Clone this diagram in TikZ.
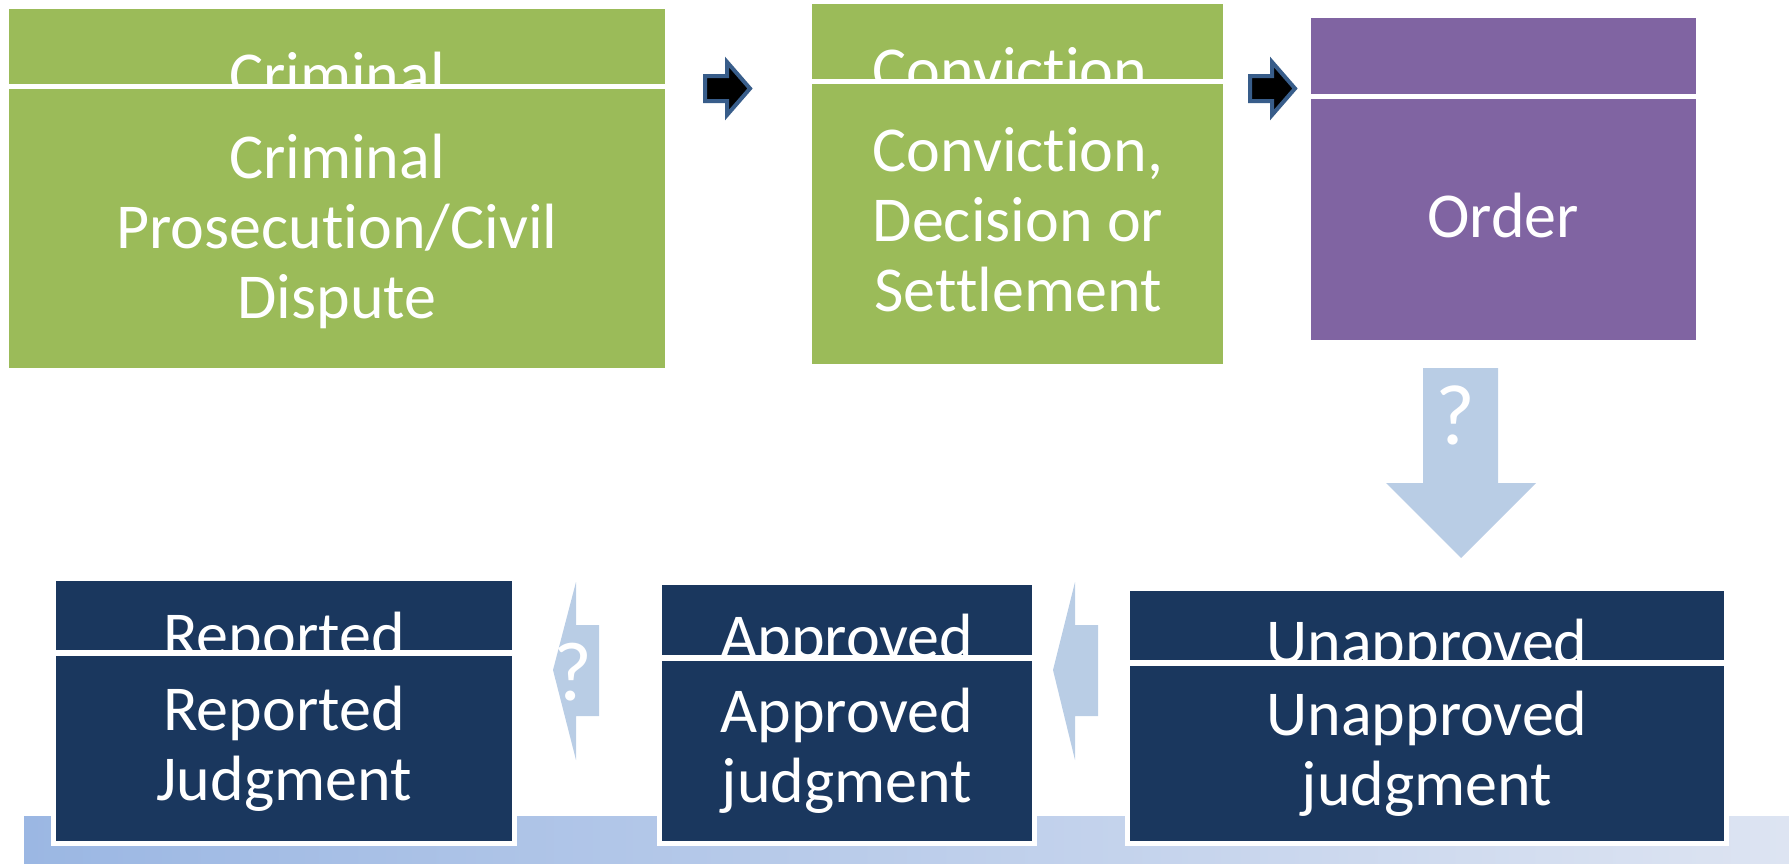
\documentclass[tikz,border=0pt]{standalone}
\usepackage{fontspec}
\setmainfont{Carlito}[Ligatures={NoCommon}]
\definecolor{grn}{HTML}{9BBB59}
\definecolor{purp}{HTML}{8064A2}
\definecolor{navy}{HTML}{1A375E}
\definecolor{lblue}{HTML}{B9CDE5}
\definecolor{abord}{HTML}{385D8A}
\definecolor{barL}{HTML}{9BB7E3}
\definecolor{barR}{HTML}{DDE4F2}
\begin{document}
\begin{tikzpicture}[x=1pt,y=-1pt,
  blk/.style={inner sep=0pt, outer sep=0pt, anchor=north west, draw=none},
  wtxt/.style={text=white, font=\fontsize{64}{70}\selectfont, align=center, inner sep=0pt},
  qtxt/.style={text=white, font=\fontsize{86}{90}\selectfont, inner sep=0pt},
  bluearrow/.style={fill=lblue, draw=none},
  smallarrow/.style={fill=black, draw=abord, line width=4pt, line join=miter},
  navymain/.style={blk, fill=navy, draw=white, line width=5pt},
]
\useasboundingbox (0,0) rectangle (1789,863);

% ---------- top row ----------
\node[blk, fill=grn, minimum width=656pt, minimum height=75pt] (h1) at (9,9) {};
\node[blk, fill=grn, minimum width=656pt, minimum height=279pt] (m1) at (9,89) {};
\begin{scope}
  \clip (h1.north west) rectangle (h1.south east);
  \node[wtxt, anchor=base] (h1t) at (337,96) {Criminal};
\end{scope}
\node[wtxt] (m1t) at (337,231) {Criminal\\Prosecution/Civil\\Dispute};

\node[blk, fill=grn, minimum width=411pt, minimum height=75pt] (h2) at (812,4) {};
\node[blk, fill=grn, minimum width=411pt, minimum height=280pt] (m2) at (812,84) {};
\begin{scope}
  \clip (h2.north west) rectangle (h2.south east);
  \node[wtxt, anchor=base] (h2t) at (1018,91) {Conviction,};
\end{scope}
\node[wtxt] (m2t) at (1018,220) {Conviction,\\Decision or\\Settlement};

\node[blk, fill=purp, minimum width=385pt, minimum height=76pt] (h3) at (1311,18) {};
\node[blk, fill=purp, minimum width=385pt, minimum height=241pt] (m3) at (1311,99) {};
\node[wtxt, anchor=base] (m3t) at (1503,237) {Order};

% small block arrows
\path[smallarrow] (705,76) -- (727,76) -- (727,62) -- (750,88.5) -- (727,115) -- (727,101) -- (705,101) -- cycle;
\path[smallarrow, xshift=545pt] (705,76) -- (727,76) -- (727,62) -- (750,88.5) -- (727,115) -- (727,101) -- (705,101) -- cycle;

% big down arrow
\path[bluearrow] (1423,368) -- (1498,368) -- (1498,483) -- (1536,483) -- (1461,558) -- (1386,483) -- (1423,483) -- cycle;
\node[qtxt] (q1) at (1455,415) {?};

% ---------- bottom row ----------
\shade[left color=barL, right color=barR] (24,816) rectangle (1789,863);

\node[blk, fill=navy, minimum width=456pt, minimum height=69pt] (h4) at (56,581) {};
\node[navymain, minimum width=461pt, minimum height=190pt] (m4) at (53.5,653.5) {};
\begin{scope}
  \clip (h4.north west) rectangle (h4.south east);
  \node[wtxt, anchor=base] (h4t) at (284,656) {Reported};
\end{scope}
\node[wtxt] (m4t) at (m4.center) {Reported\\Judgment};

\node[blk, fill=navy, minimum width=370pt, minimum height=70pt] (h5) at (662,585) {};
\node[navymain, minimum width=375pt, minimum height=185pt] (m5) at (659.5,658.5) {};
\begin{scope}
  \clip (h5.north west) rectangle (h5.south east);
  \node[wtxt, anchor=base] (h5t) at (847,658) {Approved};
\end{scope}
\node[wtxt] (m5t) at (m5.center) {Approved\\judgment};

\node[blk, fill=navy, minimum width=594pt, minimum height=69pt] (h6) at (1130,591) {};
\node[navymain, minimum width=599pt, minimum height=180pt] (m6) at (1127.5,663.5) {};
\begin{scope}
  \clip (h6.north west) rectangle (h6.south east);
  \node[wtxt, anchor=base] (h6t) at (1427,663) {Unapproved};
\end{scope}
\node[wtxt] (m6t) at (m6.center) {Unapproved\\judgment};

% left-pointing light arrows
\path[bluearrow] (553,670) -- (576,582) -- (576,625) -- (599,625) -- (599,716) -- (576,716) -- (576,760) -- cycle;
\node[qtxt, font=\fontsize{84}{88}\selectfont] (q2) at (573,672) {?};
\path[bluearrow] (1053,670) -- (1075,582) -- (1075,625) -- (1098,625) -- (1098,716) -- (1075,716) -- (1075,760) -- cycle;
\end{tikzpicture}
\end{document}
